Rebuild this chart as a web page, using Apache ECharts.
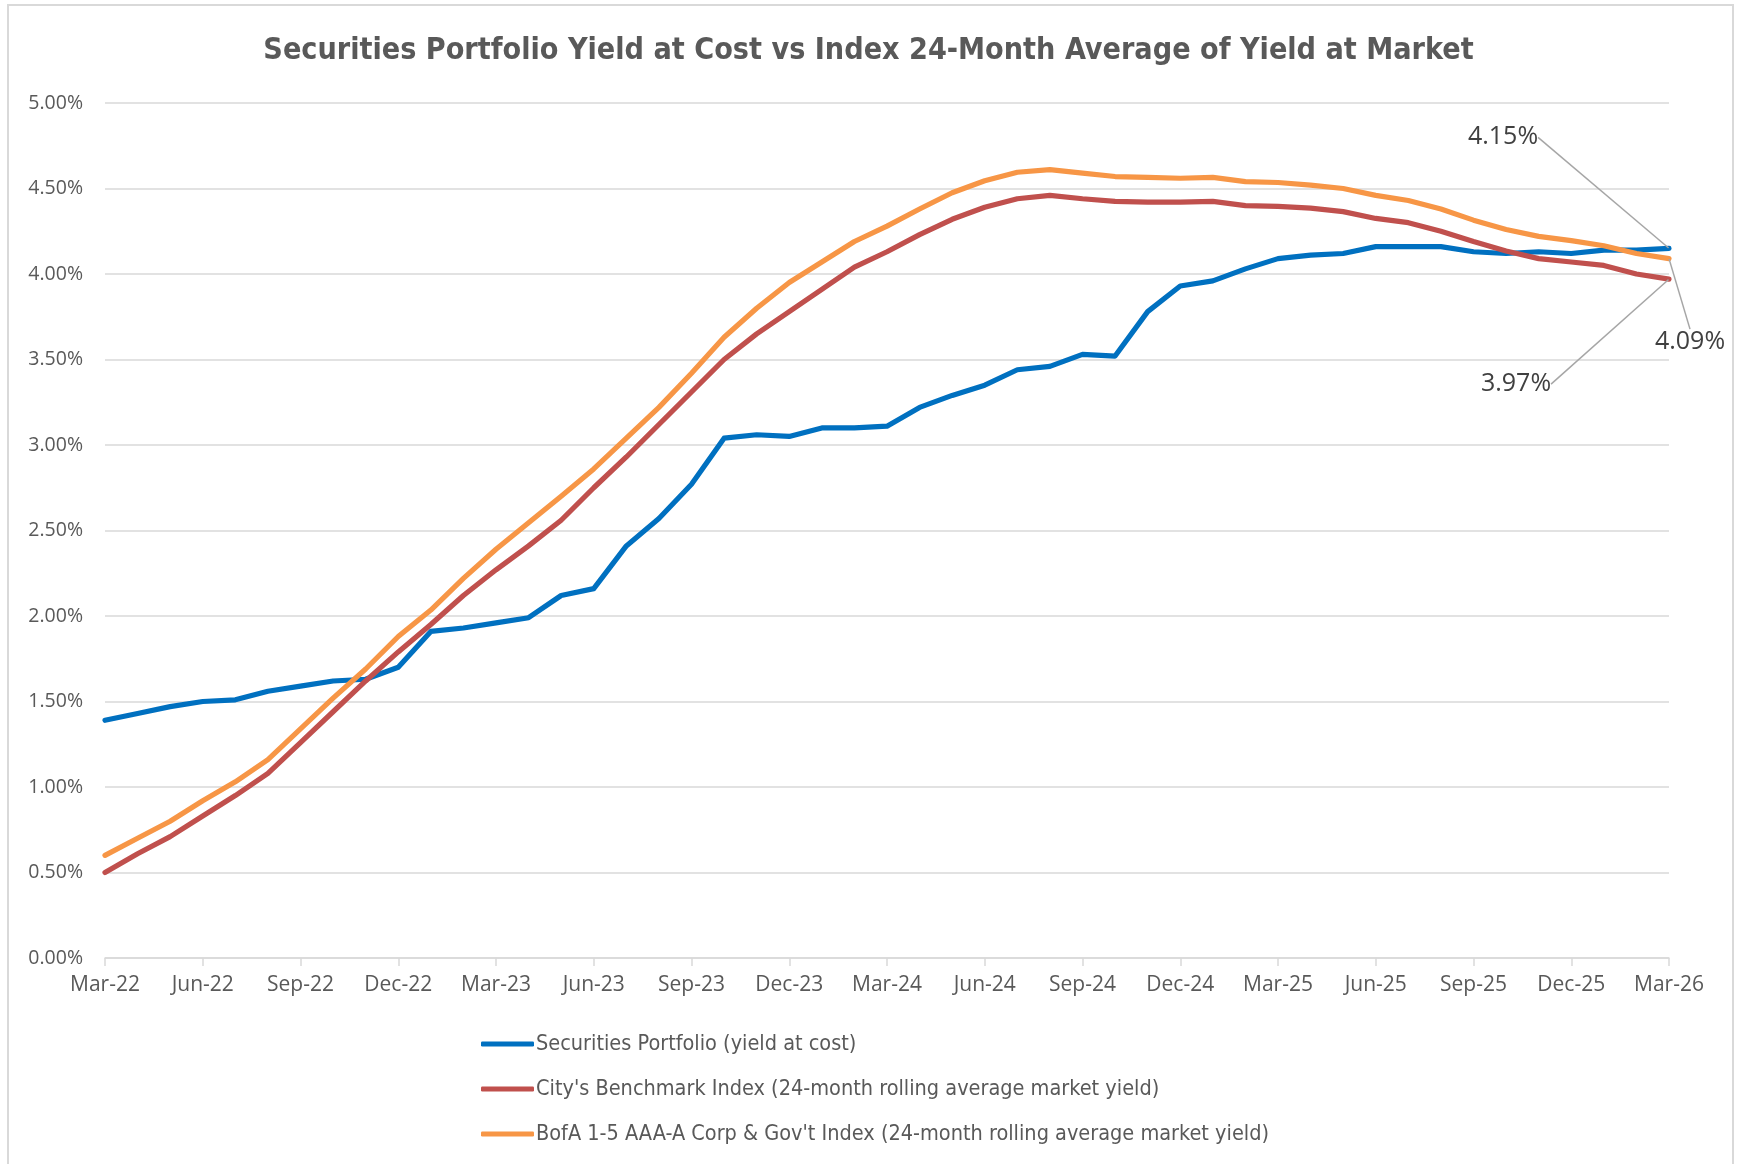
<!DOCTYPE html>
<html>
<head>
<meta charset="utf-8">
<script src="https://cdn.jsdelivr.net/npm/echarts@6/dist/echarts.min.js"></script>
<style>
html,body{margin:0;padding:0;background:#fff;}
#chart{width:1737px;height:1164px;}
</style>
</head>
<body>
<div id="chart"></div>
<script>
const months = ['Mar-22','Apr-22','May-22','Jun-22','Jul-22','Aug-22','Sep-22','Oct-22','Nov-22','Dec-22',
  'Jan-23','Feb-23','Mar-23','Apr-23','May-23','Jun-23','Jul-23','Aug-23','Sep-23','Oct-23','Nov-23','Dec-23',
  'Jan-24','Feb-24','Mar-24','Apr-24','May-24','Jun-24','Jul-24','Aug-24','Sep-24','Oct-24','Nov-24','Dec-24',
  'Jan-25','Feb-25','Mar-25','Apr-25','May-25','Jun-25','Jul-25','Aug-25','Sep-25','Oct-25','Nov-25','Dec-25',
  'Jan-26','Feb-26','Mar-26'];

const portfolio = [1.39,1.43,1.47,1.50,1.51,1.56,1.59,1.62,1.63,1.70,
  1.91,1.93,1.96,1.99,2.12,2.16,2.41,2.57,2.77,3.04,3.06,3.05,
  3.10,3.10,3.11,3.22,3.29,3.35,3.44,3.46,3.53,3.52,3.78,3.93,
  3.96,4.03,4.09,4.11,4.12,4.16,4.16,4.16,4.13,4.12,4.13,4.12,
  4.14,4.14,4.15];

const benchmark = [0.50,0.61,0.71,0.83,0.95,1.08,1.26,1.44,1.62,1.79,
  1.95,2.12,2.27,2.41,2.56,2.75,2.93,3.12,3.31,3.50,3.65,3.78,
  3.91,4.04,4.13,4.23,4.32,4.39,4.44,4.46,4.44,4.425,4.42,4.42,
  4.425,4.40,4.395,4.385,4.365,4.325,4.30,4.25,4.19,4.135,4.09,4.07,
  4.05,4.00,3.97];

const bofa = [0.60,0.70,0.80,0.92,1.03,1.16,1.34,1.52,1.69,1.88,
  2.035,2.22,2.39,2.545,2.70,2.86,3.04,3.22,3.42,3.63,3.80,3.95,
  4.07,4.19,4.28,4.38,4.475,4.545,4.595,4.61,4.59,4.57,4.565,4.56,
  4.565,4.54,4.535,4.52,4.50,4.46,4.43,4.38,4.315,4.26,4.22,4.195,
  4.165,4.12,4.09];

const yTicks = {min: 0, max: 5, interval: 0.5};

const seriesNames = [
  'Securities Portfolio (yield at cost)',
  "City's Benchmark Index (24-month rolling average market yield)",
  "BofA 1-5 AAA-A Corp & Gov't Index (24-month rolling average market yield)"
];
const colors = ['#0070C0', '#C0504D', '#F79646'];

// label offsets (annotation placement relative to the last point)
const labelPlacement = [
  {dx: -166, dy: -111, line: [[-108, -114], [-120, -114]]},
  {dx: -153, dy: 105, line: [[-96, 101], [-108, 101]]},
  {dx: 21, dy: 83, line: [[21, 58], [21, 60]]}
];

function buildData(values, si) {
  const last = values.length - 1;
  return values.map((v, i) => i === last ? {
    value: v,
    symbolSize: 1,
    label: {
      show: true,
      formatter: (p) => p.value.toFixed(2) + '%',
      fontFamily: 'Open Sans',
      fontSize: 25,
      color: '#404040'
    },
    labelLine: {show: true, lineStyle: {color: '#a6a6a6', width: 1.5}}
  } : v);
}

const chart = echarts.init(document.getElementById('chart'), null, {renderer: 'canvas'});

const series = [portfolio, benchmark, bofa].map((vals, si) => ({
  name: seriesNames[si],
  type: 'line',
  data: buildData(vals, si),
  showSymbol: true,
  symbol: 'circle',
  symbolSize: 0.01,
  itemStyle: {color: colors[si]},
  lineStyle: {color: colors[si], width: 5.2, cap: 'round', join: 'round'},
  emphasis: {disabled: true},
  labelLayout: function (params) {
    if (params.dataIndex !== vals.length - 1) return {};
    const r = params.rect;
    const cx = r.x + r.width / 2, cy = r.y + r.height / 2;
    const pl = labelPlacement[si];
    return {
      x: cx + pl.dx,
      y: cy + pl.dy,
      align: 'center',
      verticalAlign: 'middle',
      labelLinePoints: [[cx, cy], [cx + pl.line[0][0], cy + pl.line[0][1]], [cx + pl.line[1][0], cy + pl.line[1][1]]]
    };
  }
}));

chart.setOption({
  animation: false,
  backgroundColor: '#ffffff',
  title: {
    text: 'Securities Portfolio Yield at Cost vs Index 24-Month Average of Yield at Market',
    left: 'center',
    top: 31,
    textStyle: {
      fontFamily: 'Liberation Sans Narrow, DejaVu Sans Condensed, sans-serif',
      fontWeight: 'bold',
      fontSize: 30.2,
      color: '#595959'
    }
  },
  graphic: [{
    type: 'rect',
    shape: {x: 8, y: 5, width: 1725, height: 1200},
    style: {fill: 'none', stroke: '#d9d9d9', lineWidth: 2},
    silent: true,
    z: -1
  }],
  legend: {
    orient: 'vertical',
    left: 476,
    top: 1028,
    itemWidth: 53,
    itemHeight: 5,
    itemGap: 23,
    icon: 'roundRect',
    data: seriesNames,
    textStyle: {
      fontFamily: 'Liberation Sans Narrow, DejaVu Sans Condensed, sans-serif',
      fontSize: 21.5,
      color: '#595959',
      padding: [0, 0, 0, -3]
    }
  },
  grid: {left: 105, right: 68, top: 103, bottom: 206, containLabel: false},
  xAxis: {
    type: 'category',
    data: months,
    boundaryGap: false,
    axisLine: {lineStyle: {color: '#d9d9d9', width: 1.5}},
    axisTick: {show: true, interval: 2, length: 8, lineStyle: {color: '#d9d9d9', width: 1.5}},
    axisLabel: {
      interval: 2,
      margin: 17,
      fontFamily: 'Open Sans',
      fontSize: 21,
      color: '#595959'
    },
    splitLine: {show: false}
  },
  yAxis: {
    type: 'value',
    min: yTicks.min,
    max: yTicks.max,
    interval: yTicks.interval,
    axisLine: {show: false},
    axisTick: {show: false},
    axisLabel: {
      margin: 22,
      fontFamily: 'Open Sans',
      fontSize: 19.5,
      color: '#595959',
      formatter: (v) => v.toFixed(2) + '%'
    },
    splitLine: {lineStyle: {color: '#d9d9d9', width: 1.5}}
  },
  series: series
});
</script>
</body>
</html>
